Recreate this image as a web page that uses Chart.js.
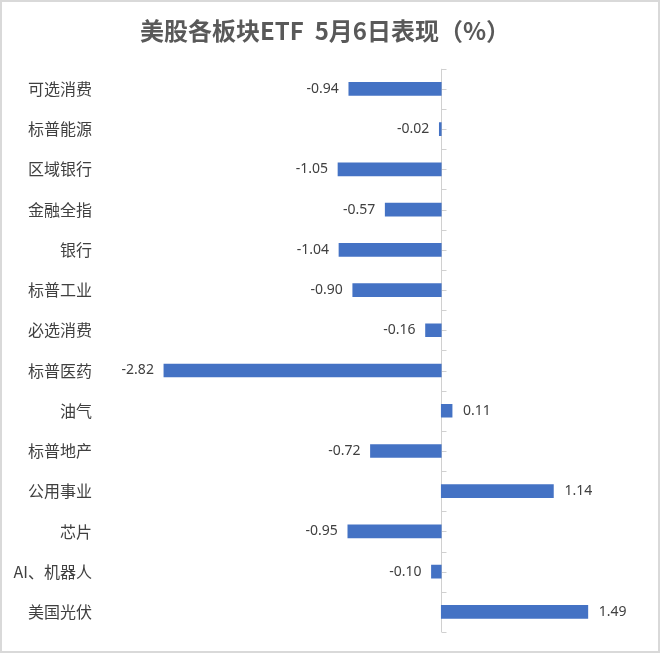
<!DOCTYPE html>
<html>
<head>
<meta charset="utf-8">
<script src="https://cdn.jsdelivr.net/npm/chart.js@4"></script>
<style>
  html, body { margin: 0; padding: 0; background: #fff; }
  #wrap { width: 660px; height: 653px; box-sizing: border-box; border: 2px solid #d9d9d9; }
  #chart { display: block; }
</style>
</head>
<body>
<div id="wrap"><canvas id="chart" width="656" height="649"></canvas></div>
<script>
// sectors and their change on May 6 (%)
const sectors = ["可选消费", "标普能源", "区域银行", "金融全指", "银行", "标普工业", "必选消费",
  "标普医药", "油气", "标普地产", "公用事业", "芯片", "AI、机器人", "美国光伏"];
const changes = [-0.94, -0.02, -1.05, -0.57, -1.04, -0.90, -0.16, -2.82, 0.11, -0.72, 1.14, -0.95, -0.10, 1.49];
const xMin = -3.5;
const xMax = 2;

// zero axis line with little ticks, like the excel one
const zeroAxis = {
  id: 'zeroAxis',
  beforeDatasetsDraw(chart) {
    const ctx = chart.ctx;
    const x0 = Math.round(chart.scales.x.getPixelForValue(0)) + 0.5;
    const area = chart.chartArea;
    const steps = sectors.length * 2;
    ctx.save();
    ctx.strokeStyle = '#d0d0d0';
    ctx.lineWidth = 1;
    ctx.beginPath();
    ctx.moveTo(x0, area.top);
    ctx.lineTo(x0, area.bottom);
    for (let i = 0; i <= steps; i++) {
      const y = Math.round(area.top + (area.bottom - area.top) * i / steps) + 0.5;
      ctx.moveTo(x0, y);
      ctx.lineTo(x0 + 5, y);
    }
    ctx.stroke();
    ctx.restore();
  }
};

// value labels at the bar ends
const valueLabels = {
  id: 'valueLabels',
  afterDatasetsDraw(chart) {
    const ctx = chart.ctx;
    const meta = chart.getDatasetMeta(0);
    ctx.save();
    ctx.font = '14px "Noto Sans", sans-serif';
    ctx.fillStyle = '#404040';
    ctx.textBaseline = 'middle';
    meta.data.forEach((bar, i) => {
      const v = changes[i];
      if (v < 0) {
        ctx.textAlign = 'right';
        ctx.fillText(v.toFixed(2), bar.x - 10, bar.y);
      } else {
        ctx.textAlign = 'left';
        ctx.fillText(v.toFixed(2), bar.x + 11, bar.y);
      }
    });
    ctx.restore();
  }
};

new Chart(document.getElementById('chart'), {
  type: 'bar',
  data: {
    labels: sectors,
    datasets: [{
      data: changes,
      backgroundColor: '#4472C4',
      barThickness: 13
    }]
  },
  options: {
    indexAxis: 'y',
    responsive: false,
    animation: false,
    layout: { padding: { left: 10, right: 20, bottom: 19, top: 0 } },
    plugins: {
      legend: { display: false },
      tooltip: { enabled: false },
      title: {
        display: true,
        text: '美股各板块ETF  5月6日表现（%）',
        color: '#595959',
        font: { size: 24, weight: 'bold', family: '"Noto Sans CJK SC", sans-serif' },
        padding: { top: 14, bottom: 24 }
      }
    },
    scales: {
      x: {
        display: false,
        min: xMin,
        max: xMax
      },
      y: {
        grid: { display: false, drawTicks: false },
        border: { display: false },
        afterFit(scale) { scale.width = 85; },
        ticks: {
          color: '#404040',
          padding: 5,
          font: { size: 16, family: '"Noto Sans CJK SC", sans-serif' }
        }
      }
    }
  },
  plugins: [zeroAxis, valueLabels]
});
</script>
</body>
</html>
